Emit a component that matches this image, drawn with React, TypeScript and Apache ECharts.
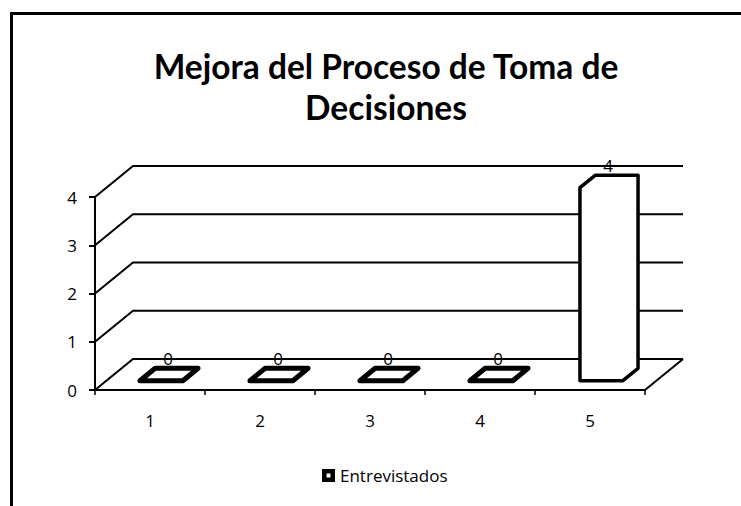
import React, { useEffect, useRef } from "react";
import * as echarts from "echarts";

const categories = ["1", "2", "3", "4", "5"];
const entrevistados = [0, 0, 0, 0, 4];
const yTicks = [0, 1, 2, 3, 4];
const seriesName = "Entrevistados";
const titleText = "Mejora del Proceso de Toma de\nDecisiones";

// 3D depth offset (pixels) and bar depth fraction
const DX = 38;
const DY = -31;
const T0 = 0.3;
const T1 = 0.7;
const FONT = "Lato, 'Open Sans', sans-serif";
const LABEL_FONT = "'Open Sans', Lato, sans-serif";

export default function App() {
  const ref = useRef<HTMLDivElement>(null);
  useEffect(() => {
    if (!ref.current) return;
    const chart = echarts.init(ref.current, null, { renderer: "svg" });
    const option: any = {
      animation: false,
      backgroundColor: "#fff",
      title: {
        text: titleText,
        left: 381,
        top: 40,
        textAlign: "center",
        textStyle: {
          fontFamily: FONT,
          fontWeight: "bold",
          fontSize: 33.5,
          lineHeight: 41,
          color: "#000",
        },
      },
      legend: {
        data: [
          {
            name: seriesName,
            icon: "path://M0,0H10V10H0ZM3.5,3.5V6.5H6.5V3.5Z",
            itemStyle: { color: "#000", borderWidth: 0 },
          },
        ],
        left: 317,
        top: 462,
        itemWidth: 13,
        itemHeight: 13,
        itemGap: 6,
        textStyle: { fontFamily: LABEL_FONT, fontSize: 17, fontWeight: 500, color: "#000" },
      },
      grid: { left: 95, right: 96, top: 197, bottom: 116 },
      xAxis: {
        type: "category",
        data: categories,
        axisLine: { show: true, lineStyle: { color: "#000", width: 2 } },
        axisTick: { show: true, length: 5, lineStyle: { color: "#000", width: 1.5 } },
        axisLabel: { margin: 22, fontSize: 17, fontWeight: 500, color: "#000", fontFamily: LABEL_FONT },
        splitLine: { show: false },
      },
      yAxis: {
        type: "value",
        min: 0,
        max: 4,
        interval: 1,
        axisLine: { show: true, lineStyle: { color: "#000", width: 2 } },
        axisTick: { show: true, length: 6, lineStyle: { color: "#000", width: 2 } },
        axisLabel: { margin: 18, fontSize: 17, fontWeight: 500, color: "#000", fontFamily: LABEL_FONT },
        splitLine: { show: false },
      },
      graphic: [
        {
          type: "rect",
          shape: { x: 11.5, y: 13.5, width: 900, height: 900 },
          style: { fill: "none", stroke: "#000", lineWidth: 3 },
          silent: true,
        },
      ],
      series: [
        {
          type: "custom",
          name: "wall",
          silent: true,
          z: 1,
          data: yTicks.map((v) => [0, v]),
          encode: { x: 0, y: 1 },
          renderItem: (params: any, api: any) => {
            const v = api.value(1);
            const p = api.coord([0, v]);
            const cs = params.coordSys;
            const x0 = cs.x;
            const x1 = cs.x + cs.width;
            const y = p[1];
            const children: any[] = [
              {
                type: "polyline",
                shape: {
                  points: [
                    [x0, y],
                    [x0 + DX, y + DY],
                    [x1 + DX, y + DY],
                  ],
                },
                style: { stroke: "#000", lineWidth: 2, fill: "none" },
              },
            ];
            if (v === 0) {
              children.push({
                type: "line",
                shape: { x1: x1, y1: y, x2: x1 + DX, y2: y + DY },
                style: { stroke: "#000", lineWidth: 2 },
              });
            }
            return { type: "group", children };
          },
        },
        {
          type: "custom",
          name: seriesName,
          z: 5,
          itemStyle: { color: "#fff", borderColor: "#000", borderWidth: 3 },
          data: entrevistados.map((v, i) => [i, v]),
          encode: { x: 0, y: 1 },
          renderItem: (params: any, api: any) => {
            const i = api.value(0);
            const v = api.value(1);
            const top = api.coord([i, v]);
            const base = api.coord([i, 0]);
            const cw = api.size([1, 0])[0];
            const hw = cw * 0.195;
            const xc = top[0];
            const pts = [
              [xc - hw + DX * T0, base[1] + DY * T0],
              [xc - hw + DX * T0, top[1] + DY * T0],
              [xc - hw + DX * T1, top[1] + DY * T1],
              [xc + hw + DX * T1, top[1] + DY * T1],
              [xc + hw + DX * T1, base[1] + DY * T1],
              [xc + hw + DX * T0, base[1] + DY * T0],
            ];
            return {
              type: "group",
              children: [
                {
                  type: "polygon",
                  shape: { points: pts },
                  style: {
                    fill: "#fff",
                    stroke: "#000",
                    lineWidth: v === 0 ? 5 : 3.5,
                    lineJoin: "round",
                  },
                },
                {
                  type: "text",
                  style: {
                    text: String(v),
                    x: xc + DX * 0.5 - 1,
                    y: top[1] + DY * T1 - 10,
                    textAlign: "center",
                    textVerticalAlign: "middle",
                    align: "center",
                    verticalAlign: "middle",
                    fontSize: 17,
                    fontWeight: 500,
                    fontFamily: LABEL_FONT,
                    fill: "#000",
                    textFill: "#000",
                  },
                },
              ],
            };
          },
        },
      ],
    };
    chart.setOption(option);
    return () => chart.dispose();
  }, []);
  return (
    <div
      ref={ref}
      style={{ position: "absolute", left: 0, top: 0, width: 741, height: 506 }}
    />
  );
}
